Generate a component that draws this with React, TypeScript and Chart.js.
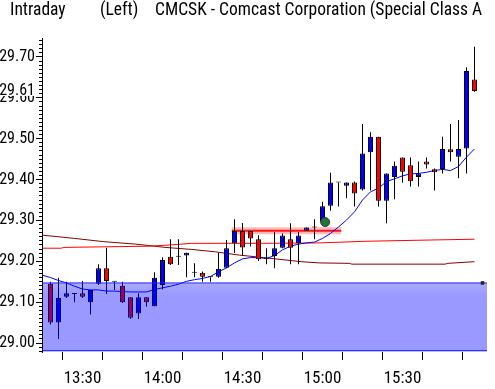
import React, { useEffect, useRef } from 'react';
import { Chart, registerables } from 'chart.js';

Chart.register(...registerables);

// ---- data ----
const times = [
  '13:18', '13:21', '13:24', '13:27', '13:30', '13:33', '13:36', '13:39', '13:42', '13:45',
  '13:48', '13:51', '13:54', '13:57', '14:00', '14:03', '14:06', '14:09', '14:12', '14:15',
  '14:18', '14:21', '14:24', '14:27', '14:30', '14:33', '14:36', '14:39', '14:42', '14:45',
  '14:48', '14:51', '14:54', '14:57', '15:00', '15:03', '15:06', '15:09', '15:12', '15:15',
  '15:18', '15:21', '15:24', '15:27', '15:30', '15:33', '15:36', '15:39', '15:42', '15:45',
  '15:48', '15:51', '15:54', '15:57',
];
const opens = [
  29.145, 29.05, 29.113, 29.12, 29.122, 29.10, 29.145, 29.183, 29.15, 29.14,
  29.112, 29.072, 29.112, 29.09, 29.142, 29.211, 29.211, 29.214, 29.172, 29.172,
  29.161, 29.162, 29.184, 29.244, 29.274, 29.274, 29.254, 29.205, 29.213, 29.233,
  29.254, 29.244, 29.275, 29.283, 29.297, 29.336, 29.393, 29.385, 29.393, 29.376,
  29.467, 29.505, 29.348, 29.406, 29.454, 29.435, 29.406, 29.444, 29.425, 29.426,
  29.474, 29.456, 29.476, 29.645,
];
const highs = [
  29.15, 29.16, 29.15, 29.12, 29.152, 29.13, 29.193, 29.233, 29.15, 29.15,
  29.112, 29.122, 29.112, 29.173, 29.21, 29.254, 29.254, 29.221, 29.195, 29.175,
  29.161, 29.22, 29.252, 29.303, 29.294, 29.274, 29.264, 29.232, 29.272, 29.268,
  29.293, 29.272, 29.283, 29.303, 29.346, 29.417, 29.393, 29.393, 29.395, 29.536,
  29.516, 29.505, 29.415, 29.444, 29.454, 29.454, 29.444, 29.454, 29.427, 29.505,
  29.536, 29.546, 29.675, 29.725,
];
const lows = [
  29.045, 29.01, 29.11, 29.10, 29.11, 29.07, 29.142, 29.12, 29.13, 29.098,
  29.059, 29.059, 29.089, 29.09, 29.131, 29.191, 29.191, 29.161, 29.161, 29.15,
  29.15, 29.16, 29.183, 29.22, 29.215, 29.236, 29.201, 29.193, 29.183, 29.232,
  29.193, 29.193, 29.275, 29.254, 29.297, 29.324, 29.334, 29.354, 29.334, 29.373,
  29.373, 29.334, 29.293, 29.352, 29.392, 29.383, 29.383, 29.427, 29.373, 29.415,
  29.444, 29.403, 29.415, 29.615,
];
const closes = [
  29.05, 29.11, 29.122, 29.12, 29.113, 29.13, 29.183, 29.152, 29.15, 29.10,
  29.062, 29.112, 29.10, 29.16, 29.203, 29.193, 29.211, 29.221, 29.172, 29.162,
  29.161, 29.182, 29.232, 29.274, 29.234, 29.256, 29.205, 29.205, 29.232, 29.263,
  29.233, 29.263, 29.283, 29.283, 29.335, 29.393, 29.393, 29.393, 29.366, 29.464,
  29.505, 29.348, 29.415, 29.434, 29.419, 29.396, 29.415, 29.437, 29.418, 29.475,
  29.467, 29.475, 29.666, 29.617,
];
// short moving average (blue), one value per candle, plus its value at the left edge
const maStartTime = '13:15';
const maStartValue = 29.166;
const maValues = [
  29.160, 29.153, 29.147, 29.139, 29.132, 29.130, 29.130, 29.127, 29.127, 29.126,
  29.125, 29.125, 29.125, 29.131, 29.135, 29.139, 29.144, 29.151, 29.155, 29.158,
  29.163, 29.174, 29.184, 29.196, 29.206, 29.209, 29.209, 29.207, 29.214, 29.228,
  29.237, 29.242, 29.245, 29.247, 29.256, 29.268, 29.284, 29.301, 29.321, 29.350,
  29.370, 29.379, 29.395, 29.402, 29.409, 29.414, 29.415, 29.418, 29.422, 29.425,
  29.422, 29.432, 29.455, 29.475,
];
// long moving average (dark red)
const longMaTimes = ['13:15', '13:27', '13:38', '13:50', '14:01', '14:11', '14:20', '14:29', '14:38', '14:52', '14:59', '15:10', '15:11', '15:46', '15:47', '15:57'];
const longMaValues = [29.264, 29.256, 29.248, 29.242, 29.234, 29.229, 29.223, 29.215, 29.209, 29.199, 29.196, 29.195, 29.193, 29.193, 29.195, 29.199];
// medium line (red)
const midMaTimes = ['13:15', '13:22', '13:23', '13:44', '13:55', '14:03', '14:11', '14:38', '14:59', '15:16', '15:40', '15:57'];
const midMaValues = [29.232, 29.232, 29.234, 29.236, 29.237, 29.240, 29.244, 29.244, 29.245, 29.249, 29.252, 29.254];
// volume-zone band
const bandTop = 29.147;
const bandBottom = 28.981;
const bandTimes = ['13:15', '16:02'];
// resistance line
const resistanceTimes = ['14:26', '15:07'];
const resistanceValue = 29.275;
// signal marker
const signalTime = '15:01';
const signalValue = 29.296;
const endMarkerTime = '16:00';
const lastPriceLabel = '29.61';
const titleParts = ['Intraday', '(Left)', 'CMCSK - Comcast Corporation (Special Class A'];

const toMin = (t: string) => {
  const [h, m] = t.split(':').map(Number);
  return h * 60 + m;
};
const fmt = (v: number) => `${Math.floor(v / 60)}:${String(v % 60).padStart(2, '0')}`;

const UP = '#0000ff';
const DOWN = '#ff0000';
const FAMILY = "Roboto, 'Liberation Sans', sans-serif";

export default function App() {
  const ref = useRef<HTMLCanvasElement>(null);

  useEffect(() => {
    if (!ref.current) return;
    const xs = times.map(toMin);
    const bodyColors = opens.map((o, i) => (closes[i] > o ? UP : closes[i] < o ? DOWN : '#000000'));

    const lastPricePlugin = {
      id: 'lastPrice',
      afterDraw(chart: any) {
        const y = chart.scales.y.getPixelForValue(closes[closes.length - 1]);
        const ctx = chart.ctx;
        ctx.save();
        ctx.fillStyle = '#ffffff';
        ctx.fillRect(0, y - 7, 35, 12);
        ctx.fillStyle = '#000000';
        ctx.font = `condensed 16px ${FAMILY}`;
        ctx.textAlign = 'right';
        ctx.textBaseline = 'middle';
        ctx.fillText(lastPriceLabel, 35, y);
        ctx.restore();
      },
    };

    const bandFill = (c: any) => {
      const chart = c.chart;
      if (!chart.chartArea) return 'rgba(0,0,255,0.4)';
      const yTop = chart.scales.y.getPixelForValue(bandTop);
      const g = chart.ctx.createLinearGradient(0, yTop, 0, yTop + 12);
      g.addColorStop(0, 'rgba(0,0,255,0.33)');
      g.addColorStop(1, 'rgba(0,0,255,0.4)');
      return g;
    };

    const chart = new Chart(ref.current, {
      type: 'bar',
      data: {
        datasets: [
          {
            type: 'line',
            data: [{ x: toMin(signalTime), y: signalValue }],
            showLine: false,
            pointRadius: 4.5,
            pointBackgroundColor: '#2a6e3e',
            pointBorderColor: '#1b4a29',
            pointBorderWidth: 1,
            order: 0,
          } as any,
          {
            type: 'line',
            data: [{ x: toMin(endMarkerTime), y: bandTop }],
            showLine: false,
            pointStyle: 'rect',
            pointRadius: 2.5,
            pointBackgroundColor: '#222222',
            pointBorderColor: '#222222',
            pointBorderWidth: 0,
            order: 0,
          } as any,
          {
            type: 'line',
            data: bandTimes.map((t) => ({ x: toMin(t), y: bandTop })),
            borderColor: '#2020ff',
            borderWidth: 1,
            backgroundColor: bandFill,
            fill: { value: bandBottom },
            pointRadius: 0,
            order: 1,
          } as any,
          {
            type: 'line',
            data: bandTimes.map((t) => ({ x: toMin(t), y: bandBottom })),
            borderColor: '#0000ff',
            borderWidth: 1,
            pointRadius: 0,
            fill: false,
            order: 1,
          } as any,
          {
            type: 'bar',
            data: xs.map((x, i) => ({ x, y: [opens[i], closes[i]] })),
            backgroundColor: bodyColors,
            borderColor: '#000000',
            borderWidth: 1,
            borderSkipped: false,
            barThickness: 5,
            minBarLength: 1,
            inflateAmount: 0,
            grouped: false,
            order: 2,
          } as any,
          {
            type: 'bar',
            data: xs.map((x, i) => ({ x, y: [lows[i], highs[i]] })),
            backgroundColor: '#000000',
            borderWidth: 0,
            barThickness: 1,
            inflateAmount: 0,
            grouped: false,
            order: 3,
          } as any,
          {
            type: 'line',
            data: [{ x: toMin(maStartTime), y: maStartValue }, ...xs.map((x, i) => ({ x, y: maValues[i] }))],
            borderColor: '#0000ff',
            borderWidth: 1,
            pointRadius: 0,
            fill: false,
            order: 4,
          } as any,
          {
            type: 'line',
            data: resistanceTimes.map((t) => ({ x: toMin(t), y: resistanceValue })),
            borderColor: 'rgba(255,60,60,0.35)',
            borderWidth: 7,
            pointRadius: 0,
            fill: false,
            order: 5,
          } as any,
          {
            type: 'line',
            data: resistanceTimes.map((t) => ({ x: toMin(t), y: resistanceValue })),
            borderColor: '#ff0000',
            borderWidth: 2,
            pointRadius: 0,
            fill: false,
            order: 5,
          } as any,
          {
            type: 'line',
            data: midMaTimes.map((t, i) => ({ x: toMin(t), y: midMaValues[i] })),
            borderColor: '#ff0000',
            borderWidth: 1,
            pointRadius: 0,
            fill: false,
            order: 6,
          } as any,
          {
            type: 'line',
            data: longMaTimes.map((t, i) => ({ x: toMin(t), y: longMaValues[i] })),
            borderColor: '#800000',
            borderWidth: 1,
            pointRadius: 0,
            fill: false,
            order: 6,
          } as any,
        ],
      },
      options: {
        animation: false,
        responsive: false,
        maintainAspectRatio: false,
        layout: { padding: { top: 38, right: 8, left: 0, bottom: 0 } },
        plugins: { legend: { display: false }, tooltip: { enabled: false }, title: { display: false } },
        scales: {
          x: {
            type: 'linear',
            offset: false,
            min: 794.8125,
            max: 961.6875,
            grid: { drawOnChartArea: false, drawTicks: true, tickLength: 8, color: '#000000' },
            border: { display: false },
            ticks: {
              stepSize: 15,
              includeBounds: false,
              autoSkip: false,
              maxTicksLimit: 100,
              maxRotation: 0,
              padding: 9,
              color: '#000000',
              font: { family: FAMILY, size: 17, weight: 'condensed' },
              callback: (v: any) => (v % 30 === 0 && v < 960 ? fmt(v) : ''),
            },
            afterFit: (s: any) => {
              s.height = 37;
            },
          },
          yMinor: {
            type: 'linear',
            position: 'left',
            weight: 0,
            min: 28.978,
            max: 29.7465,
            grid: { drawOnChartArea: false, drawTicks: true, tickLength: 3, color: '#000000' },
            border: { display: false },
            ticks: { display: false, stepSize: 0.01, includeBounds: false, maxTicksLimit: 1000, autoSkip: false },
            afterFit: (s: any) => {
              s.width = 0;
            },
          },
          y: {
            type: 'linear',
            position: 'left',
            weight: 1,
            min: 28.978,
            max: 29.7465,
            grid: { drawOnChartArea: false, drawTicks: true, tickLength: 6, color: '#000000' },
            border: { display: true, color: '#000000', width: 1 },
            ticks: {
              stepSize: 0.1,
              includeBounds: false,
              autoSkip: false,
              padding: 1,
              color: '#000000',
              font: { family: FAMILY, size: 16, weight: 'condensed' },
              callback: (v: any) => Number(v).toFixed(2),
            },
            afterFit: (s: any) => {
              s.width = 42;
            },
          },
        },
      } as any,
      plugins: [lastPricePlugin],
    });
    return () => chart.destroy();
  }, []);

  const titleStyle: React.CSSProperties = {
    position: 'absolute',
    top: -1,
    fontFamily: 'Roboto, sans-serif',
    fontStretch: 'condensed',
    fontSize: '17.5px',
    lineHeight: '20px',
    whiteSpace: 'nowrap',
    color: '#000',
  };

  return (
    <div style={{ position: 'fixed', left: 0, top: 0, width: 495, height: 389, background: '#ffffff', overflow: 'hidden' }}>
      <canvas ref={ref} width={495} height={389} style={{ position: 'absolute', left: 0, top: 0 }} />
      <div style={{ ...titleStyle, left: 10 }}>{titleParts[0]}</div>
      <div style={{ ...titleStyle, left: 100 }}>{titleParts[1]}</div>
      <div style={{ ...titleStyle, left: 155 }}>{titleParts[2]}</div>
    </div>
  );
}
